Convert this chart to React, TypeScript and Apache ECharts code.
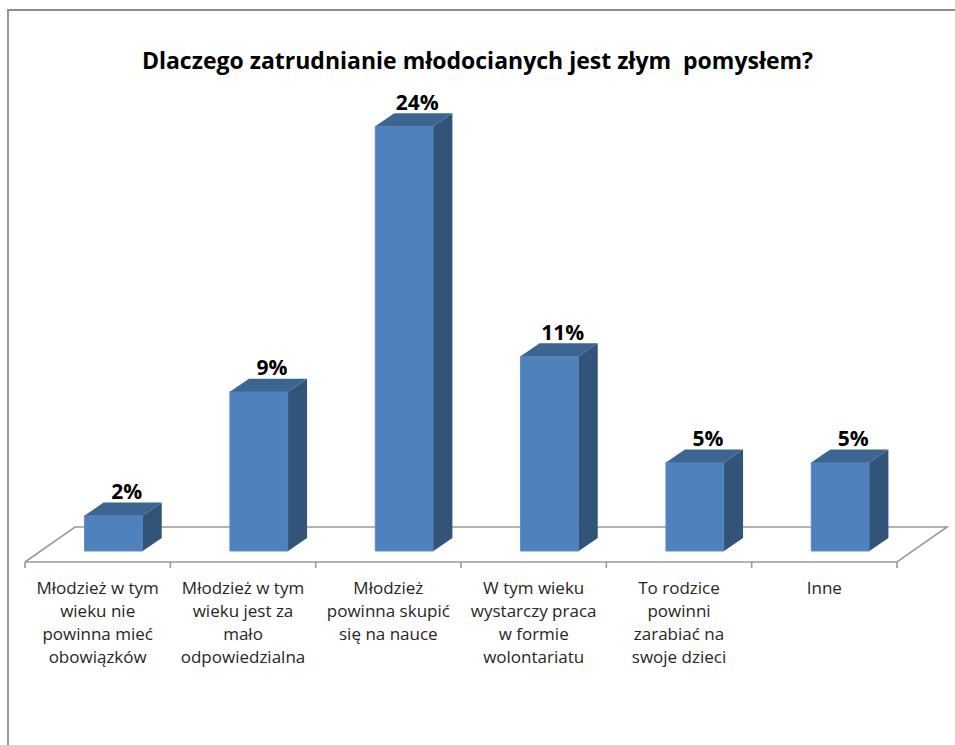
import React, { useEffect, useRef } from "react";
import * as echarts from "echarts";

const titleText = "Dlaczego zatrudnianie młodocianych jest złym  pomysłem?";
const categories = [
  "Młodzież w tym\nwieku nie\npowinna mieć\nobowiązków",
  "Młodzież w tym\nwieku jest za\nmało\nodpowiedzialna",
  "Młodzież\npowinna skupić\nsię na nauce",
  "W tym wieku\nwystarczy praca\nw formie\nwolontariatu",
  "To rodzice\npowinni\nzarabiać na\nswoje dzieci",
  "Inne",
];
const values = [2, 9, 24, 11, 5, 5];
const valueLabels = ["2%", "9%", "24%", "11%", "5%", "5%"];

const FRONT = "#4F81BD";
const SIDE = "#325479";
const TOP = "#3C6592";
const FLOOR_LINE = "#9a9a9a";
const FONT = "'Open Sans', 'DejaVu Sans', sans-serif";

export default function App() {
  const ref = useRef<HTMLDivElement>(null);
  useEffect(() => {
    if (!ref.current) return;
    const chart = echarts.init(ref.current, undefined, { renderer: "svg" });
    const option: any = {
      animation: false,
      backgroundColor: "#ffffff",
      title: {
        text: titleText,
        left: "center",
        top: 40,
        textStyle: {
          fontFamily: FONT,
          fontWeight: "bold",
          fontSize: 23,
          color: "#000000",
          lineHeight: 30,
        },
      },
      graphic: [
        {
          type: "polyline",
          shape: { points: [[8, 745], [8, 10], [955, 10]] },
          style: { stroke: "#8c8c8c", lineWidth: 1.8, fill: "none" },
          z: 100,
        },
      ],
      grid: { left: 41, width: 872, bottom: 194, top: 20, containLabel: false },
      xAxis: {
        type: "category",
        data: categories,
        axisLine: { show: false },
        axisTick: { show: false },
        axisLabel: {
          interval: 0,
          margin: 25,
          fontFamily: FONT,
          fontSize: 17,
          lineHeight: 23,
          color: "#262626",
          align: "center",
          padding: [0, 32, 0, 0],
        },
      },
      yAxis: {
        type: "value",
        min: 0,
        max: 30,
        show: false,
        splitLine: { show: false },
      },
      series: [
        {
          type: "custom",
          clip: false,
          z: 1,
          data: [[0, 0]],
          renderItem: (params: any, api: any) => {
            const n = categories.length;
            const band = api.size([1, 0])[0];
            const c0 = api.coord([0, 0]);
            const left = c0[0] - band / 2;
            const base = c0[1];
            const fx0 = left - 16;
            const fy = base + 11;
            const bx0 = fx0 + 50;
            const by = fy - 35;
            const fx1 = fx0 + band * n;
            const bx1 = fx1 + 50;
            const children: any[] = [
              {
                type: "polyline",
                shape: { points: [[fx0, fy], [bx0, by], [bx1, by], [fx1, fy], [fx0, fy]] },
                style: { stroke: FLOOR_LINE, lineWidth: 1.6, fill: "none" },
              },
            ];
            for (let k = 0; k <= n; k++) {
              const x = fx0 + band * k;
              children.push({
                type: "line",
                shape: { x1: x, y1: fy, x2: x, y2: fy + 6 },
                style: { stroke: FLOOR_LINE, lineWidth: 1.6 },
              });
            }
            return { type: "group", children };
          },
        },
        {
          type: "custom",
          clip: false,
          z: 2,
          data: values.map((v, i) => [i, v]),
          renderItem: (params: any, api: any) => {
            const i = api.value(0);
            const v = api.value(1);
            const top = api.coord([i, v]);
            const base = api.coord([i, 0])[1];
            const cx = top[0];
            const ty = top[1];
            const w = api.size([1, 0])[0] * 0.4;
            const xl = cx - w / 2;
            const xr = cx + w / 2;
            const dx = 19;
            const dy = 13;
            return {
              type: "group",
              children: [
                {
                  type: "rect",
                  shape: { x: xl, y: ty, width: w, height: base - ty },
                  style: { fill: FRONT, stroke: "#5d8cc4", lineWidth: 1 },
                },
                {
                  type: "polygon",
                  shape: { points: [[xr, ty], [xr + dx, ty - dy], [xr + dx, base - dy], [xr, base]] },
                  style: { fill: SIDE },
                },
                {
                  type: "polygon",
                  shape: { points: [[xl, ty], [xl + dx, ty - dy], [xr + dx, ty - dy], [xr, ty]] },
                  style: { fill: TOP },
                },
                {
                  type: "text",
                  style: {
                    text: valueLabels[params.dataIndex],
                    x: cx + 13,
                    y: ty - dy - 1,
                    align: "center",
                    verticalAlign: "bottom",
                    fontFamily: FONT,
                    fontWeight: "bold",
                    fontSize: 21,
                    fill: "#000000",
                  },
                },
              ],
            };
          },
        },
      ],
    };
    chart.setOption(option);
    return () => chart.dispose();
  }, []);
  return (
    <div
      ref={ref}
      style={{ position: "fixed", left: 0, top: 0, width: 955, height: 745 }}
    />
  );
}
